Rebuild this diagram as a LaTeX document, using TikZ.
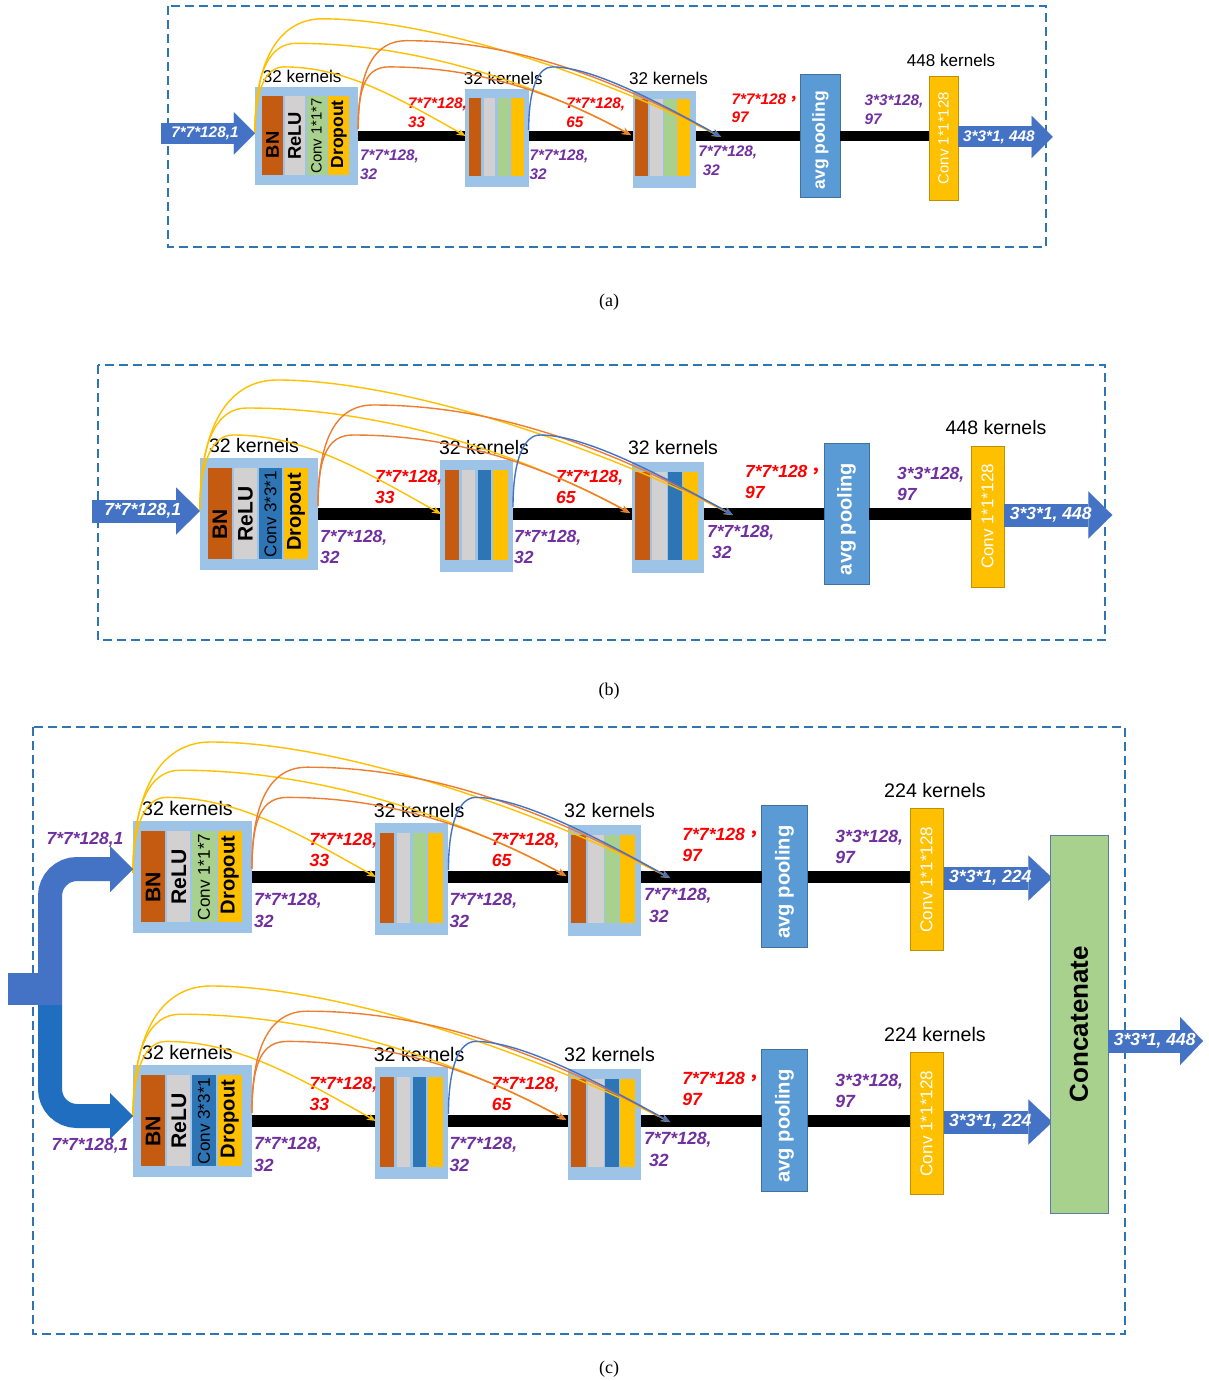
\documentclass[tikz,border=0pt]{standalone}
\usepackage{fontspec}
\setmainfont{Liberation Sans}
\newfontfamily\capfont{Liberation Serif}
\newfontfamily\cjkfont{Noto Sans CJK TC}
\usetikzlibrary{arrows.meta,calc}
\definecolor{bgblue}{RGB}{157,195,230}
\definecolor{bnorange}{RGB}{197,90,17}
\definecolor{relugray}{RGB}{210,208,208}
\definecolor{convgreen}{RGB}{169,209,142}
\definecolor{convblue}{RGB}{46,117,182}
\definecolor{dropyellow}{RGB}{255,192,0}
\definecolor{avgblue}{RGB}{91,155,213}
\definecolor{avgborder}{RGB}{65,113,156}
\definecolor{convborder}{RGB}{191,144,0}
\definecolor{arrowblue}{RGB}{68,114,196}
\definecolor{forkdark}{RGB}{32,110,192}
\definecolor{dashblue}{RGB}{46,117,182}
\definecolor{labred}{RGB}{255,0,0}
\definecolor{labpurple}{RGB}{112,48,160}
\definecolor{arcyellow}{RGB}{255,192,0}
\definecolor{arcorange}{RGB}{237,125,49}
\definecolor{arcblue}{RGB}{68,114,196}
\definecolor{concatborder}{RGB}{90,125,160}
\tikzset{
  bgbox/.style={fill=bgblue, draw=none, inner sep=0pt, outer sep=0pt},
  strip/.style={draw=none, inner sep=0pt, outer sep=0pt},
  rtxt/.style={rotate=90, inner sep=0pt},
  kern/.style={inner sep=0pt, font=\fontsize{19.5}{22}\selectfont},
  lab/.style={inner sep=0pt, anchor=north west, align=left, font=\fontsize{17.5}{21.5}\selectfont\bfseries\itshape},
  redlab/.style={lab, text=labred},
  purlab/.style={lab, text=labpurple},
  wlab/.style={inner sep=0pt, text=white, font=\fontsize{17.5}{21}\selectfont\bfseries\itshape},
  bar/.style={draw=black, line cap=butt},
  fat/.style n args={3}{draw=arrowblue, line width=#1, line cap=butt, -{Triangle[length=#3, width=#2, line width=0.01pt]}},
  arcline/.style={line width=1.4pt, -{Stealth[length=9pt, width=7pt]}},
  yarc/.style={arcline, draw=arcyellow},
  oarc/.style={arcline, draw=arcorange},
  barc/.style={arcline, draw=arcblue},
  dashbox/.style={draw=dashblue, line width=1.2pt, dash pattern=on 9pt off 5pt},
  capt/.style={inner sep=0pt, font=\capfont\fontsize{18}{20}\selectfont},
}
% #1 prefix, #2 conv strip colour, #3 conv text, #4 kernels text, #5 out label,
% #6 bar width, #7 arrow body, #8 arrow head width, #9 arrow head length
\newcommand\myrow[9]{%
  % block 1
  \node[bgbox, minimum width=118pt, minimum height=112pt] (#1b1) at (259,0) {};
  \node[strip, fill=bnorange, minimum width=24pt, minimum height=91pt] (#1s11) at (220,-0.5) {};
  \node[strip, fill=relugray, minimum width=23pt, minimum height=91pt] (#1s12) at (245.5,-0.5) {};
  \node[strip, fill=#2, minimum width=23pt, minimum height=91pt] (#1s13) at (270.5,-0.5) {};
  \node[strip, fill=dropyellow, minimum width=24pt, minimum height=91pt] (#1s14) at (296,-0.5) {};
  \node[rtxt, font=\fontsize{21}{21}\selectfont\bfseries] (#1t11) at (220,10) {BN};
  \node[rtxt, font=\fontsize{21}{21}\selectfont\bfseries] (#1t12) at (245.5,0) {ReLU};
  \node[rtxt, font=\fontsize{17}{17}\selectfont] (#1t13) at (270.5,0) {#3};
  \node[rtxt, font=\fontsize{20}{20}\selectfont\bfseries] (#1t14) at (296,-2) {Dropout};
  \node[kern] (#1k1) at (254,-68) {32 kernels};
  % block 2
  \node[bgbox, minimum width=73pt, minimum height=112pt] (#1b2) at (476.5,2) {};
  \node[strip, fill=bnorange, minimum width=14pt, minimum height=90pt] (#1s21) at (452,1) {};
  \node[strip, fill=relugray, minimum width=13pt, minimum height=90pt] (#1s22) at (468.5,1) {};
  \node[strip, fill=#2, minimum width=13pt, minimum height=90pt] (#1s23) at (484.5,1) {};
  \node[strip, fill=dropyellow, minimum width=15pt, minimum height=90pt] (#1s24) at (500.5,1) {};
  \node[kern] (#1k2) at (484,-66) {32 kernels};
  % block 3
  \node[bgbox, minimum width=72pt, minimum height=111pt] (#1b3) at (668,3.5) {};
  \node[strip, fill=bnorange, minimum width=15pt, minimum height=88pt] (#1s31) at (642.5,2) {};
  \node[strip, fill=relugray, minimum width=15pt, minimum height=88pt] (#1s32) at (659.5,2) {};
  \node[strip, fill=#2, minimum width=14pt, minimum height=88pt] (#1s33) at (675,2) {};
  \node[strip, fill=dropyellow, minimum width=15pt, minimum height=88pt] (#1s34) at (690.5,2) {};
  \node[kern] (#1k3) at (673,-66) {32 kernels};
  % avg pooling and conv
  \node[fill=avgblue, draw=avgborder, line width=0.6pt, inner sep=0pt, minimum width=45pt, minimum height=141pt] (#1avg) at (846.5,-0.5) {};
  \node[rtxt, text=white, font=\fontsize{20}{20}\selectfont\bfseries] (#1avgt) at (846.5,5) {avg pooling};
  \node[fill=dropyellow, draw=convborder, line width=0.6pt, inner sep=0pt, minimum width=33pt, minimum height=141pt] (#1conv) at (987.5,2.5) {};
  \node[rtxt, text=white, font=\fontsize{17}{17}\selectfont] (#1convt) at (987.5,2.5) {Conv 1*1*128};
  \node[kern] (#1k4) at (996,-86) {#4 kernels};
  % black bars
  \draw[bar, line width=#6] (#1b1.east) -- (#1b1.east -| #1b2.west);
  \draw[bar, line width=#6] (#1b2.east |- #1b1.east) -- (#1b3.west |- #1b1.east);
  \draw[bar, line width=#6] (#1b3.east |- #1b1.east) -- (#1avg.west |- #1b1.east);
  \draw[bar, line width=#6] (#1avg.east |- #1b1.east) -- (#1conv.west |- #1b1.east);
  % output arrow
  \draw[fat={#7}{#8}{#9}] ($(#1conv.east)+(0,-1.5)$) -- ++(108,0)
     node[wlab, pos=0.43] (#1outl) {#5};
  % size labels
  \node[redlab] (#1r1) at (375,-44) {7*7*128,\\33};
  \node[redlab] (#1r2) at (556,-44) {7*7*128,\\65};
  \node[redlab] (#1r3) at (745,-49) {7*7*128{\cjkfont ，}\\97};
  \node[purlab] (#1p1) at (320,16) {7*7*128,\\32};
  \node[purlab] (#1p2) at (514,16) {7*7*128,\\32};
  \node[purlab] (#1p3) at (707,11) {7*7*128,\\\hspace*{5pt}32};
  \node[purlab] (#1p4) at (897,-47) {3*3*128,\\97};
  % dense connections
  \coordinate (#1x0) at (200,-4);
  \coordinate (#1o1) at (318,-8);
  \coordinate (#1i2) at (441,0);
  \coordinate (#1o2) at (513,-7);
  \coordinate (#1i3) at (630,-1);
  \coordinate (#1o3) at (733,1);
  \draw[yarc] (#1x0) .. controls +(0,-90) and +(-45,0) .. (277,-134) .. controls +(120,0) and +(-150,-75) .. (#1o3);
  \draw[yarc] (#1x0) .. controls +(0,-70) and +(-30,0) .. (247,-106) .. controls +(120,0) and +(-130,-70) .. (#1i3);
  \draw[yarc] (#1x0) .. controls +(0,-50) and +(-20,0) .. (233,-79) .. controls +(70,0) and +(-80,-45) .. (#1i2);
  \draw[oarc] (#1o1) .. controls +(0,-70) and +(-35,0) .. (373,-109) .. controls +(120,0) and +(-130,-70) .. (#1o3);
  \draw[oarc] (#1o1) .. controls +(0,-50) and +(-25,0) .. (353,-79) .. controls +(90,0) and +(-100,-55) .. (#1i3);
  \draw[barc] (#1o2) .. controls +(0,-50) and +(-15,0) .. (540,-79) .. controls +(40,0) and +(-90,-50) .. (#1o3);
}
\begin{document}
\begin{tikzpicture}[x=1pt, y=-1pt]
\useasboundingbox (0,0) rectangle (1209,1381);
\fill[white] (0,0) rectangle (1209,1381);
% ---------- panel (a)
\draw[dashbox] (168,6) rectangle (1046,247);
\begin{scope}[shift={(80.1,136)}, scale=0.8744, transform shape]
  \myrow{a}{convgreen}{Conv 1*1*7}{448}{3*3*1, 448}{10pt}{21pt}{42pt}{21pt}
  \coordinate (ain) at (92,-3);
  \draw[fat={21pt}{42pt}{21pt}] (ain) -- ($(ab1.west)+(0,-3)$) node[wlab, pos=0.47] (ainl) {7*7*128,1};
\end{scope}
\node[capt] (capa) at (609,302) {(a)};
% ---------- panel (b)
\draw[dashbox] (98,365) rectangle (1105,640);
\begin{scope}[shift={(0,514)}]
  \myrow{b}{convblue}{Conv 3*3*1}{448}{3*3*1, 448}{12pt}{23pt}{47pt}{24pt}
  \coordinate (bin) at (92,-3);
  \draw[fat={23pt}{47pt}{24pt}] (bin) -- ($(bb1.west)+(0,-3)$) node[wlab, pos=0.47] (binl) {7*7*128,1};
\end{scope}
\node[capt] (capb) at (609,691) {(b)};
% ---------- panel (c)
\draw[dashbox] (33,727) rectangle (1125,1334);
\begin{scope}[shift={(-68.5,877)}, scale=1.0075, transform shape]
  \myrow{c1}{convgreen}{Conv 1*1*7}{224}{3*3*1, 224}{12pt}{23pt}{45pt}{24pt}
\end{scope}
\begin{scope}[shift={(-68.5,1121)}, scale=1.0075, transform shape]
  \myrow{c2}{convblue}{Conv 3*3*1}{224}{3*3*1, 224}{12pt}{23pt}{45pt}{24pt}
\end{scope}
% fork input
\fill[arrowblue] (8,973) rectangle (50,1005);
\coordinate (fk) at (50,1005);
\draw[fat={24pt}{46pt}{23pt}, rounded corners=27pt] (fk) |- ([yshift=8pt]c1b1.west);
\draw[fat={24pt}{46pt}{23pt}, draw=forkdark, rounded corners=27pt] (fk) |- ([yshift=5pt]c2b1.west);
\node[inner sep=0pt, text=labpurple, font=\fontsize{17.5}{21}\selectfont\bfseries\itshape] (cin1) at (85,840) {7*7*128,1};
\node[inner sep=0pt, text=labpurple, font=\fontsize{17.5}{21}\selectfont\bfseries\itshape] (cin2) at (90,1146) {7*7*128,1};
% concatenate
\node[fill=convgreen, draw=concatborder, line width=0.8pt, inner sep=0pt, minimum width=58pt, minimum height=378pt] (concat) at (1079,1024) {};
\node[rtxt, font=\fontsize{26}{26}\selectfont\bfseries] (concatt) at (1079,1024) {Concatenate};
\coordinate (cout) at (1203,1041);
\draw[fat={23pt}{48pt}{23pt}] ([yshift=-17pt]concat.east) -- (cout) node[wlab, pos=0.49] (coutl) {3*3*1, 448};
\node[capt] (capc) at (609,1369) {(c)};
\end{tikzpicture}
\end{document}
